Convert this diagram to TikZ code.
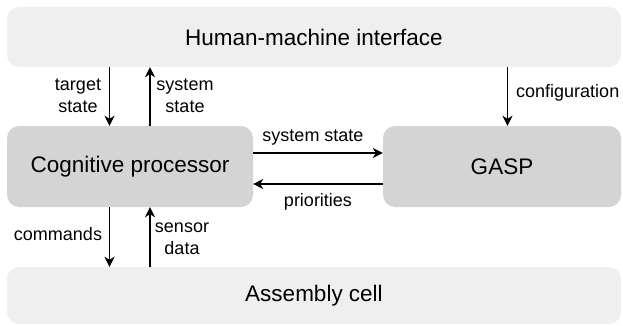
\documentclass[tikz,border=0pt]{standalone}
\usepackage{fontspec}
\setmainfont{Liberation Sans}
\usetikzlibrary{arrows.meta,calc}
\definecolor{lightbox}{HTML}{EFEFEF}
\definecolor{darkbox}{HTML}{D3D4D3}
\tikzset{
  bigbox/.style={rectangle, rounded corners=12pt, draw=none, fill=lightbox, inner sep=0pt,
    font=\fontsize{22.5}{26}\selectfont},
  procbox/.style={rectangle, rounded corners=12pt, draw=none, fill=darkbox, inner sep=0pt,
    font=\fontsize{22.5}{26}\selectfont},
  lbl/.style={inner sep=0pt, align=center, font=\fontsize{18}{22}\selectfont},
  arr/.style={line width=1.9pt, -{Stealth[length=10pt,width=10pt,inset=3pt]}},
}
\begin{document}
\begin{tikzpicture}[x=1pt,y=-1pt]
\useasboundingbox (0,0) rectangle (623,326);
\node[bigbox, minimum width=614pt, minimum height=60pt] (hmi) at (314,37) {Human-machine interface};
\node[procbox, minimum width=246pt, minimum height=81pt] (cog) at (130,166.5) {Cognitive processor};
\node[procbox, minimum width=238pt, minimum height=81pt] (gasp) at (502,166.5) {GASP};
\node[bigbox, minimum width=614pt, minimum height=57pt] (asm) at (314,295.5) {Assembly cell};
\coordinate (xa) at (109.5,0);
\coordinate (xb) at (150,0);
\coordinate (xc) at (507.5,0);
\coordinate (ya) at (0,153);
\coordinate (yb) at (0,184);
\draw[arr] (xa |- hmi.south) -- (xa |- cog.north);
\draw[arr] (xb |- cog.north) -- (xb |- hmi.south);
\draw[arr] (xc |- hmi.south) -- (xc |- gasp.north);
\draw[arr] (xa |- cog.south) -- (xa |- asm.north);
\draw[arr] (xb |- asm.north) -- (xb |- cog.south);
\draw[arr] (cog.east |- ya) -- (gasp.west |- ya);
\draw[arr] (gasp.west |- yb) -- (cog.east |- yb);
\node[lbl] (l1) at (78,96) {target\\state};
\node[lbl] (l2) at (185,96) {system\\state};
\node[lbl, anchor=west] (l3) at (516,93) {configuration};
\node[lbl] (l4) at (313,138) {system state};
\node[lbl] (l5) at (318,202) {priorities};
\node[lbl] (l6) at (58,234) {commands};
\node[lbl] (l7) at (182,239) {sensor\\data};
\end{tikzpicture}
\end{document}
